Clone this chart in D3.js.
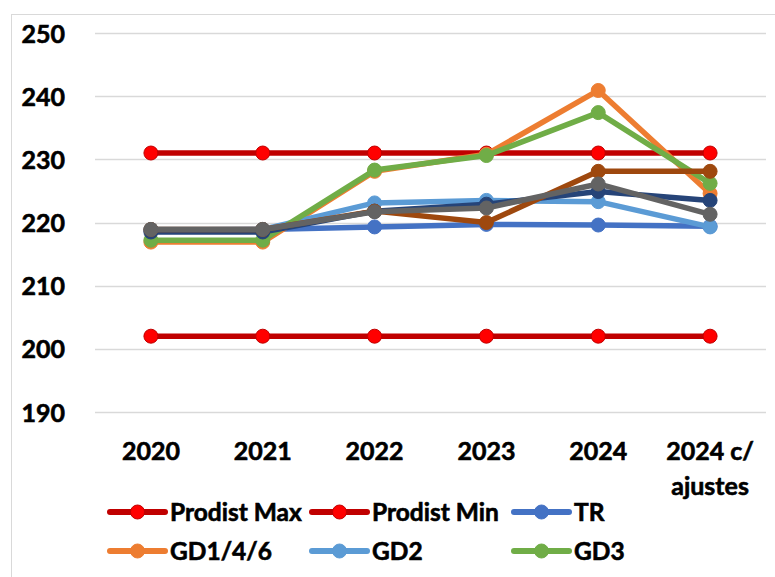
<!DOCTYPE html>
<html>
<head>
<meta charset="utf-8">
<script src="https://cdn.jsdelivr.net/npm/d3@7/dist/d3.min.js"></script>
<style>
  html, body { margin: 0; padding: 0; background: #fff; }
  svg { display: block; }
  text { font-family: Lato, "Open Sans", sans-serif; font-weight: 700; fill: #000;
         stroke: #000; stroke-width: 0.6px; }
</style>
</head>
<body>
<svg id="chart" width="775" height="577"></svg>
<script>
// Categories (x axis)
const categories = ["2020", "2021", "2022", "2023", "2024", "2024 c/\najustes"];
// Y axis ticks
const yTicks = [190, 200, 210, 220, 230, 240, 250];

// Series values, one array per series
const prodistMax = [231, 231, 231, 231, 231, 231];
const prodistMin = [202, 202, 202, 202, 202, 202];
const tr         = [218.8, 218.9, 219.3, 219.7, 219.6, 219.4];
const gd146      = [216.9, 216.9, 228.1, 230.8, 240.9, 224.6];
const gd2        = [218.9, 218.9, 223.1, 223.5, 223.3, 219.3];
const gd3        = [217.2, 217.2, 228.3, 230.6, 237.4, 226.2];
const serie7     = [218.5, 218.5, 221.8, 222.9, 224.9, 223.5];
const serie8     = [218.9, 218.9, 221.8, 220.0, 228.1, 228.1];
const serie9     = [218.9, 218.9, 221.7, 222.3, 226.1, 221.3];

const series = [
  { name: "Prodist Max", values: prodistMax, line: "#C00000", fill: "#FF0000", stroke: "#C00000" },
  { name: "Prodist Min", values: prodistMin, line: "#C00000", fill: "#FF0000", stroke: "#C00000" },
  { name: "TR",          values: tr,         line: "#4472C4", fill: "#4472C4", stroke: "#4472C4" },
  { name: "GD1/4/6",     values: gd146,      line: "#ED7D31", fill: "#ED7D31", stroke: "#ED7D31" },
  { name: "GD2",         values: gd2,        line: "#5B9BD5", fill: "#5B9BD5", stroke: "#5B9BD5" },
  { name: "GD3",         values: gd3,        line: "#70AD47", fill: "#70AD47", stroke: "#70AD47" },
  { name: "Série 7",     values: serie7,     line: "#264478", fill: "#264478", stroke: "#264478" },
  { name: "Série 8",     values: serie8,     line: "#9E480E", fill: "#9E480E", stroke: "#9E480E" },
  { name: "Série 9",     values: serie9,     line: "#636363", fill: "#636363", stroke: "#636363" }
];

const svg = d3.select("#chart");

// Chart area frame (top and left edges fall inside the window)
svg.append("rect")
  .attr("x", 11.5).attr("y", 14.5)
  .attr("width", 800).attr("height", 600)
  .attr("fill", "#fff").attr("stroke", "#D9D9D9").attr("stroke-width", 1);

const plot = { left: 95, right: 766, top: 33, bottom: 412 };

const x = d3.scaleBand().domain(categories.map((c, i) => i))
  .range([plot.left, plot.right]);
const y = d3.scaleLinear().domain([190, 250]).range([plot.bottom, plot.top]);
const cx = i => x(i) + x.bandwidth() / 2;

// Horizontal gridlines
svg.append("g").selectAll("line").data(yTicks).join("line")
  .attr("x1", plot.left).attr("x2", plot.right)
  .attr("y1", d => Math.round(y(d)) + 0.5).attr("y2", d => Math.round(y(d)) + 0.5)
  .attr("stroke", "#D9D9D9").attr("stroke-width", 1.5);

// Y axis labels
const yAxis = d3.axisLeft(y).tickValues(yTicks).tickSize(0).tickPadding(0);
const gy = svg.append("g").attr("transform", "translate(65,0)").call(yAxis);
gy.select(".domain").remove();
gy.selectAll("text").attr("font-size", 25).attr("dy", "0.36em")
  .style("font-family", "Lato, sans-serif").style("font-weight", 700)
  .attr("fill", "#000").attr("stroke", "#000").attr("stroke-width", 0.6);

// X axis labels (multi-line)
const xl = svg.append("g");
categories.forEach((c, i) => {
  const t = xl.append("text").attr("x", cx(i)).attr("y", 460)
    .attr("text-anchor", "middle").attr("font-size", 25);
  c.split("\n").forEach((part, k) => {
    t.append("tspan").attr("x", cx(i)).attr("dy", k === 0 ? 0 : 35).text(part);
  });
});

// Lines and markers
const line = d3.line().x((d, i) => cx(i)).y(d => y(d));
series.forEach(s => {
  const g = svg.append("g");
  g.append("path").datum(s.values).attr("d", line)
    .attr("fill", "none").attr("stroke", s.line).attr("stroke-width", 5.5)
    .attr("stroke-linejoin", "round").attr("stroke-linecap", "round");
  g.selectAll("circle").data(s.values).join("circle")
    .attr("cx", (d, i) => cx(i)).attr("cy", d => y(d)).attr("r", 7)
    .attr("fill", s.fill).attr("stroke", s.stroke).attr("stroke-width", 1);
});

// Legend
const legendItems = series.slice(0, 6);
const colX = [110, 312, 514];
const rowY = [512, 551];
legendItems.forEach((s, i) => {
  const lx = colX[i % 3], ly = rowY[Math.floor(i / 3)];
  const g = svg.append("g").attr("transform", `translate(${lx},${ly})`);
  g.append("line").attr("x1", 0).attr("x2", 55).attr("y1", 0).attr("y2", 0)
    .attr("stroke", s.line).attr("stroke-width", 6).attr("stroke-linecap", "round");
  g.append("circle").attr("cx", 27.5).attr("cy", 0).attr("r", 7)
    .attr("fill", s.fill).attr("stroke", s.stroke).attr("stroke-width", 1);
  g.append("text").attr("x", 60).attr("y", 0).attr("dy", "0.36em")
    .attr("font-size", 24.5).text(s.name);
});
</script>
</body>
</html>
